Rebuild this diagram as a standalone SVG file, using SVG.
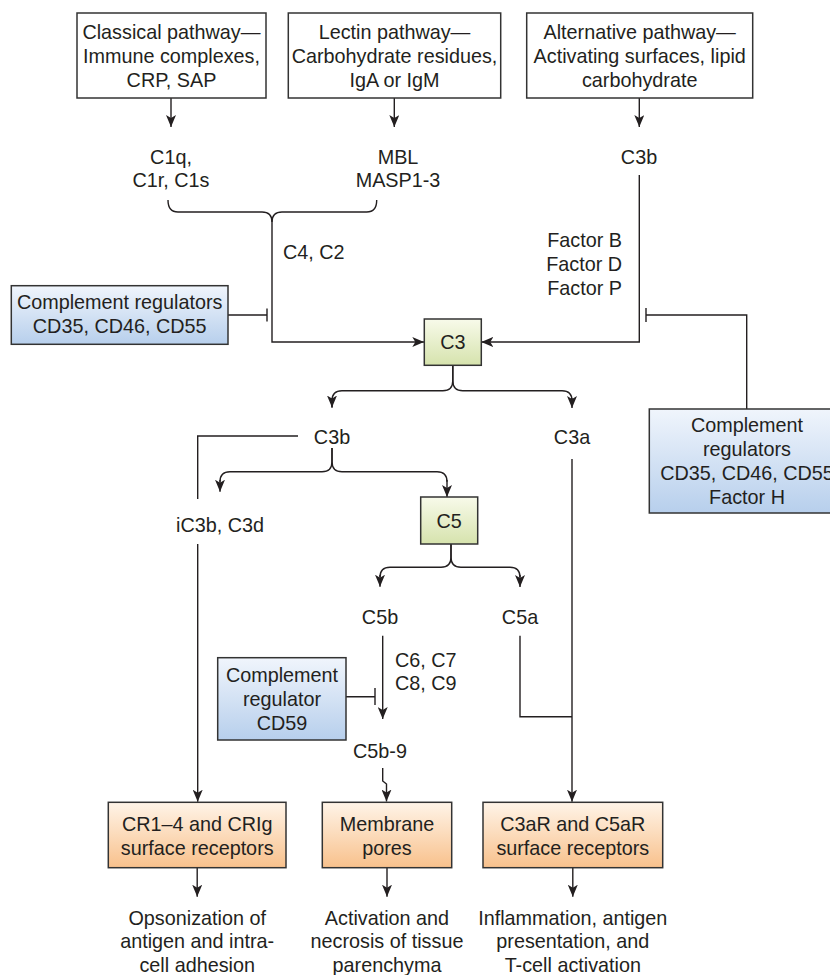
<svg xmlns="http://www.w3.org/2000/svg" width="830" height="975" viewBox="0 0 830 975">
<defs>
<linearGradient id="gBlue" x1="0" y1="0" x2="0" y2="1"><stop offset="0" stop-color="#f0f5fc"/><stop offset="1" stop-color="#b7cfec"/></linearGradient>
<linearGradient id="gGreen" x1="0" y1="0" x2="0" y2="1"><stop offset="0" stop-color="#f8faea"/><stop offset="1" stop-color="#d6e3ad"/></linearGradient>
<linearGradient id="gOrange" x1="0" y1="0" x2="0" y2="1"><stop offset="0" stop-color="#fff4e8"/><stop offset="1" stop-color="#f8c18c"/></linearGradient>
<marker id="arr" viewBox="0 0 12 10" refX="12" refY="5" markerWidth="12" markerHeight="10" markerUnits="userSpaceOnUse" orient="auto">
<path d="M0,0 L12,5 L0,10 L3,5 Z" fill="#231f20"/>
</marker>
<style>
text{font-family:"Liberation Sans",Arial,sans-serif;font-size:19.8px;fill:#231f20;text-anchor:middle}
.l{text-anchor:start}
.r{text-anchor:end}
.box{stroke:#333;stroke-width:1.5}
.w{fill:#fff}
.b{fill:url(#gBlue)}
.g{fill:url(#gGreen)}
.o{fill:url(#gOrange)}
.c{fill:none;stroke:#231f20;stroke-width:1.4}
.a{marker-end:url(#arr)}
</style>
</defs>

<g id="connectors">
<path class="c a" d="M171,98 V127"/>
<path class="c a" d="M394.3,98 V127"/>
<path class="c a" d="M639.3,98 V127"/>
<path class="c" d="M168,200 Q168,212 178,212 H262 Q272,212 272,222"/>
<path class="c" d="M376.7,200 Q376.7,212 366.7,212 H282 Q272,212 272,222"/>
<path class="c a" d="M272,222 V342 H424.3"/>
<path class="c a" d="M639.3,175 V342 H481.3"/>
<path class="c" d="M228,315 H267 M267,308.5 V321.5"/>
<path class="c" d="M746.7,409 V315 H646 M646,308 V322"/>
<path class="c" d="M452.8,365.3 V380.7 Q452.8,390.7 442.8,390.7 H342 Q332,390.7 332,400.7 V407.5"/>
<path class="c a" d="M332,398 V407.5"/>
<path class="c" d="M452.8,365.3 V380.7 Q452.8,390.7 462.8,390.7 H562 Q572,390.7 572,400.7"/>
<path class="c a" d="M572,398 V408"/>
<path class="c" d="M298,436 H197.7 V499"/>
<path class="c a" d="M197.7,544 V801.7"/>
<path class="c" d="M332,448 V461.7 Q332,471.7 322,471.7 H230 Q220,471.7 220,481.7"/>
<path class="c a" d="M220,480 V491.7"/>
<path class="c" d="M332,448 V461.7 Q332,471.7 342,471.7 H437 Q447,471.7 447,481.7"/>
<path class="c a" d="M447,480 V497"/>
<path class="c" d="M451,544 V557.3 Q451,567.3 441,567.3 H390 Q380,567.3 380,577.3"/>
<path class="c a" d="M380,575 V586.7"/>
<path class="c" d="M451,544 V557.3 Q451,567.3 461,567.3 H510 Q520,567.3 520,577.3"/>
<path class="c a" d="M520,575 V587"/>
<path class="c a" d="M382.7,635.7 V719"/>
<path class="c" d="M346,696.7 H375 M375,688 V705"/>
<path class="c a" d="M382.7,768 V781 L386.5,784 V801.5"/>
<path class="c a" d="M572,459 V801.7"/>
<path class="c" d="M520,635.7 V716.7 H572"/>
<path class="c a" d="M197.2,868 V896.7"/>
<path class="c a" d="M387,868 V896.7"/>
<path class="c a" d="M572.8,868 V896.7"/>
</g>

<g id="classical">
<rect class="box w" x="77" y="13" width="189" height="85"/>
<text x="171.5" y="39">Classical pathway—</text>
<text x="171.5" y="63">Immune complexes,</text>
<text x="171.5" y="87">CRP, SAP</text>
</g>
<g id="lectin">
<rect class="box w" x="288.3" y="13" width="212.4" height="85"/>
<text x="394.5" y="39">Lectin pathway—</text>
<text x="394.5" y="63">Carbohydrate residues,</text>
<text x="394.5" y="87">IgA or IgM</text>
</g>
<g id="alternative">
<rect class="box w" x="526.7" y="13" width="226" height="85"/>
<text x="639.7" y="39">Alternative pathway—</text>
<text x="639.7" y="63">Activating surfaces, lipid</text>
<text x="639.7" y="87">carbohydrate</text>
</g>

<g id="c1">
<text x="171" y="164">C1q,</text>
<text x="171" y="187">C1r, C1s</text>
</g>
<g id="mbl">
<text x="398" y="164">MBL</text>
<text x="398" y="187">MASP1-3</text>
</g>
<g id="c3b-alt"><text x="639" y="164">C3b</text></g>
<g id="c4c2"><text class="l" x="283" y="259">C4, C2</text></g>
<g id="factors">
<text class="r" x="622" y="247">Factor B</text>
<text class="r" x="622" y="271">Factor D</text>
<text class="r" x="622" y="295">Factor P</text>
</g>

<g id="regulators-left">
<rect class="box b" x="11.3" y="285.7" width="216.7" height="58.6"/>
<text x="119.7" y="309">Complement regulators</text>
<text x="119.7" y="333">CD35, CD46, CD55</text>
</g>

<g id="c3">
<rect class="box g" x="424.3" y="319" width="57" height="46.3"/>
<text x="452.8" y="349">C3</text>
</g>

<g id="regulators-right">
<rect class="box b" x="649.3" y="409" width="196" height="104"/>
<text x="747" y="432">Complement</text>
<text x="747" y="456">regulators</text>
<text x="747" y="480">CD35, CD46, CD55</text>
<text x="747" y="504">Factor H</text>
</g>

<g id="c3b"><text x="332" y="443.5">C3b</text></g>
<g id="c3a"><text x="572" y="443.5">C3a</text></g>
<g id="ic3b"><text x="220" y="532">iC3b, C3d</text></g>

<g id="c5">
<rect class="box g" x="420.7" y="497" width="57" height="47"/>
<text x="449.2" y="527.5">C5</text>
</g>
<g id="c5b"><text x="380" y="623.7">C5b</text></g>
<g id="c5a"><text x="520" y="623.7">C5a</text></g>
<g id="c6-9">
<text class="l" x="395" y="667">C6, C7</text>
<text class="l" x="395" y="690">C8, C9</text>
</g>

<g id="cd59">
<rect class="box b" x="217.7" y="657.7" width="128.3" height="82.3"/>
<text x="282" y="682">Complement</text>
<text x="282" y="706">regulator</text>
<text x="282" y="730">CD59</text>
</g>
<g id="c5b-9"><text x="380" y="757.7">C5b-9</text></g>

<g id="cr-receptors">
<rect class="box o" x="108.3" y="802.3" width="177.7" height="65.4"/>
<text x="197.2" y="831">CR1–4 and CRIg</text>
<text x="197.2" y="855">surface receptors</text>
</g>
<g id="pores">
<rect class="box o" x="322.3" y="802.3" width="129.4" height="65.4"/>
<text x="387" y="831">Membrane</text>
<text x="387" y="855">pores</text>
</g>
<g id="c3ar">
<rect class="box o" x="483" y="802.3" width="179.7" height="65.4"/>
<text x="572.8" y="831">C3aR and C5aR</text>
<text x="572.8" y="855">surface receptors</text>
</g>

<g id="out-opsonization">
<text x="197.2" y="924.7">Opsonization of</text>
<text x="197.2" y="948">antigen and intra-</text>
<text x="197.2" y="972">cell adhesion</text>
</g>
<g id="out-necrosis">
<text x="387" y="924.7">Activation and</text>
<text x="387" y="948">necrosis of tissue</text>
<text x="387" y="972">parenchyma</text>
</g>
<g id="out-inflammation">
<text x="572.8" y="924.7">Inflammation, antigen</text>
<text x="572.8" y="948">presentation, and</text>
<text x="572.8" y="972">T-cell activation</text>
</g>
</svg>
